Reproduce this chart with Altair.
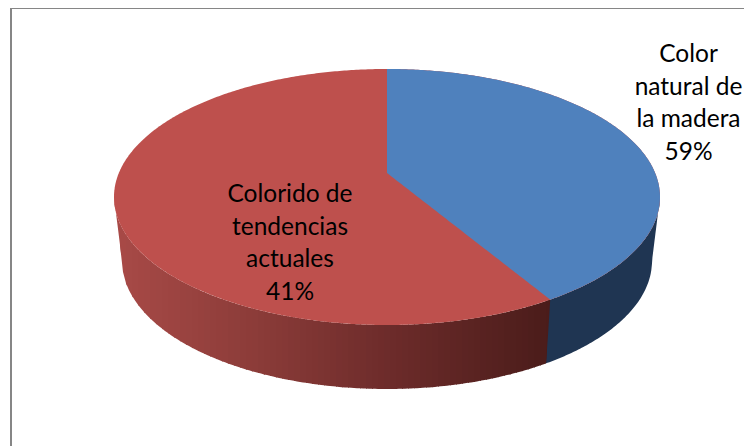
import math
import altair as alt
import pandas as pd

# Slice geometry (the blue slice spans about 40 % of the turn)
slice_names = ["Color natural de la madera", "Colorido de tendencias actuales"]
drawn_shares = [39.8, 60.2]
top_colors = ["#4F81BD", "#BE504D"]
blue_wall_color = "#1F3552"
wall_shade_stops = [114, 250, 390, 549]
wall_shade_colors = ["#A84A47", "#8C3C39", "#6C2B2A", "#4A1C1A"]
frame_color = "#868686"

label_lines = ["Color", "natural de", "la madera", "59%", "Colorido de", "tendencias", "actuales", "41%"]
label_groups = [0, 0, 0, 0, 1, 1, 1, 1]

# Pie layout in page pixels
W, H = 736, 438
CX, CY, A, B = 387, 197, 273, 128
BOT_CY, BOT_A, BOT_B = 261, 265, 128
VERTEX_Y = 173
LABEL_X = [688.5, 290]
LABEL_Y = [55, 195]
LINE_STEP = 32.7

angle = math.radians(drawn_shares[0] / sum(drawn_shares) * 360 - 90)
END_X = CX + A * math.cos(angle)
END_Y = CY + B * math.sin(angle)
BOT_END_X = END_X - 4
BOT_END_Y = BOT_CY + BOT_B * math.sqrt(1 - ((BOT_END_X - CX) / BOT_A) ** 2)


def half(x):
    return B * math.sqrt(max(0.0, 1 - ((x - CX) / A) ** 2))


def top_up(x):
    return CY - half(x)


def top_low(x):
    return CY + half(x)


def wall_bottom(x):
    d = abs(x - CX)
    if d <= BOT_A:
        return BOT_CY + BOT_B * math.sqrt(1 - (d / BOT_A) ** 2)
    return CY + (A - d) / (A - BOT_A) * (BOT_CY - CY)


def red_wall_bottom(x):
    if x <= BOT_END_X:
        return wall_bottom(x)
    return END_Y + (END_X - x) / (END_X - BOT_END_X) * (BOT_END_Y - END_Y)


n = 360
grid = [CX + A * math.cos(math.pi * i / n) for i in range(n, -1, -1)]

# Full top face, red
top_df = pd.DataFrame({"x": grid, "y": [top_up(x) for x in grid], "y2": [top_low(x) for x in grid]})

# Blue wedge on the top face
blue_x = sorted({x for x in grid if x >= CX} | {END_X})


def wedge_low(x):
    if x <= END_X:
        return VERTEX_Y + (x - CX) / (END_X - CX) * (END_Y - VERTEX_Y)
    return top_low(x)


wedge_df = pd.DataFrame({"x": blue_x, "y": [top_up(x) for x in blue_x], "y2": [wedge_low(x) for x in blue_x]})

# Side wall, blue part
bw_x = sorted({x for x in grid if x >= BOT_END_X - 1})
bw_df = pd.DataFrame({"x": bw_x, "y": [top_low(x) for x in bw_x], "y2": [wall_bottom(x) for x in bw_x]})

# Side wall, red part in shaded bands
rows = []
left = CX - A
band = 0
while left < END_X:
    right = min(left + 6, END_X)
    xs = [left, (left + right) / 2, right, min(right + 1, END_X)]
    if band == 0:
        xs = [left + (right - left) * f for f in (0, 0.02, 0.08, 0.2, 0.4, 0.7, 1)] + [right + 1]
    for x in xs:
        rows.append({"x": x, "y": top_low(x), "y2": red_wall_bottom(x), "band": band, "shade": left})
    left = right
    band += 1
rw_df = pd.DataFrame(rows)

# Labels, one row per text line
lab_rows = []
seen = {0: 0, 1: 0}
for text, g in zip(label_lines, label_groups):
    lab_rows.append({"t": text, "x": LABEL_X[g], "y": LABEL_Y[g] + seen[g] * LINE_STEP, "ord": len(lab_rows)})
    seen[g] += 1
lab_df = pd.DataFrame(lab_rows)

xs = alt.Scale(domain=[8, 8 + W], nice=False, zero=False)
ys = alt.Scale(domain=[8 + H, 8], nice=False, zero=False)
X = alt.X("x:Q", scale=xs, axis=None)
Y = alt.Y("y:Q", scale=ys, axis=None)
Y2 = alt.Y2("y2:Q")


def area(df, color):
    return alt.Chart(df).mark_area(color=color, orient="vertical").encode(x=X, y=Y, y2=Y2)


blue_wall = area(bw_df, blue_wall_color)
red_wall = alt.Chart(rw_df).mark_area(orient="vertical").encode(
    x=X, y=Y, y2=Y2,
    detail="band:N",
    color=alt.Color(
        "shade:Q",
        scale=alt.Scale(domain=wall_shade_stops, range=wall_shade_colors),
        legend=None,
    ),
)
top_face = area(top_df, top_colors[1])
wedge = area(wedge_df, top_colors[0])

labels = alt.Chart(lab_df).mark_text(
    font="Lato", fontSize=24.5, color="#000000", align="center", baseline="middle"
).encode(x=X, y=Y, text="t:N", detail="ord:N")

frame_top = alt.Chart(pd.DataFrame({"x": [11], "x2": [8 + W], "y": [8]})).mark_rule(
    color=frame_color, strokeWidth=2
).encode(x=X, x2="x2:Q", y=Y)
frame_left = alt.Chart(pd.DataFrame({"x": [11], "y": [8], "y2": [8 + H]})).mark_rule(
    color=frame_color, strokeWidth=2
).encode(x=X, y=Y, y2=Y2)

chart = alt.layer(
    frame_top, frame_left, blue_wall, red_wall, top_face, wedge, labels
).properties(
    width=W, height=H, padding=0, autosize=alt.AutoSizeParams(type="none"), background="white"
).configure_view(stroke=None)

chart.save("out.html", embed_options={"renderer": "svg", "actions": False})
